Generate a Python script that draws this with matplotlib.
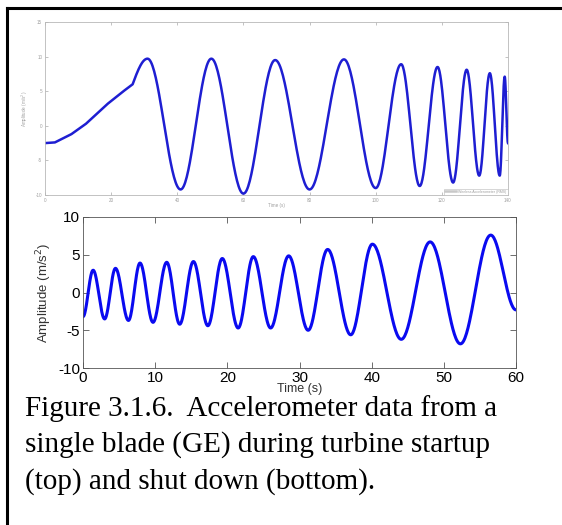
import numpy as np
import matplotlib
from matplotlib import pyplot as plt
from matplotlib.lines import Line2D

matplotlib.use("agg")

# startup record (top): slow ramp, then growing-frequency swings
startup_ramp_t = [0, 3.0, 8.0, 12.4, 19.0, 24.0, 26.5]
startup_ramp_v = [-2.5, -2.4, -1.2, 0.3, 3.2, 5.1, 6.0]
startup_ext_t = [31.0, 41.0, 50.3, 60.0, 69.6, 80.0, 90.4, 100.0, 107.7,
                 113.3, 118.7, 123.4, 127.5, 131.3, 134.5, 137.5, 139.0, 140.0]
startup_ext_v = [9.7, -9.2, 9.7, -9.8, 9.5, -9.2, 9.6, -9.0, 8.9,
                 -8.7, 8.5, -8.2, 8.1, -7.2, 7.6, -7.2, 7.1, -2.5]

# shut down record (bottom): swings slow down and grow
shutdown_ext_t = [0.0, 1.4, 3.0, 4.5, 6.3, 7.9, 9.7, 11.6, 13.4, 15.3, 17.3,
                  19.3, 21.5, 23.6, 26.0, 28.5, 31.2, 33.9, 37.1, 40.1, 44.1,
                  48.1, 52.3, 56.5, 60.0]
shutdown_ext_v = [-3.2, 2.95, -3.5, 3.2, -3.7, 3.9, -3.95, 4.0, -4.2, 4.1, -4.4,
                  4.5, -4.7, 4.75, -4.7, 4.85, -5.0, 5.7, -5.6, 6.4, -6.2,
                  6.7, -6.8, 7.6, -2.3]

caption = ["Figure 3.1.6.  Accelerometer data from a",
           "single blade (GE) during turbine startup",
           "(top) and shut down (bottom)."]


def swing(ts, vs, n=40, lead_in=False):
    # half-cosine strokes between successive turning points;
    # lead_in makes the first stroke a quarter sine (still climbing at its start)
    xs, ys = [], []
    for i in range(len(ts) - 1):
        s = np.linspace(0, 1, n, endpoint=False)
        if i == 0 and lead_in:
            shape = np.sin(np.pi / 2 * s)
        else:
            shape = (1 - np.cos(np.pi * s)) / 2
        xs.append(ts[i] + s * (ts[i + 1] - ts[i]))
        ys.append(vs[i] + (vs[i + 1] - vs[i]) * shape)
    xs.append([ts[-1]])
    ys.append([vs[-1]])
    return np.concatenate(xs), np.concatenate(ys)


def matlab_box(ax, color, length, size):
    for sp in ax.spines.values():
        sp.set_color(color)
        sp.set_linewidth(0.6)
    ax.tick_params(direction="in", top=True, right=True, length=length,
                   width=0.6, color=color, labelsize=size, pad=2)


plt.rcParams["font.family"] = ["Liberation Sans", "DejaVu Sans"]
plt.rcParams["axes.unicode_minus"] = False
fig = plt.figure(figsize=(5.62, 5.25), dpi=100)

# frame around the figure panel
fig.add_artist(Line2D([7 / 562, 7 / 562], [0, 1 - 8 / 525], color="black", lw=2.2))
fig.add_artist(Line2D([7 / 562, 1], [1 - 8 / 525, 1 - 8 / 525], color="black", lw=2.2))

# top: startup
ax1 = fig.add_axes([45 / 562, 1 - 195 / 525, 463 / 562, 173 / 525])
t_up, v_up = swing([startup_ramp_t[-1]] + startup_ext_t,
                   [startup_ramp_v[-1]] + startup_ext_v, lead_in=True)
t_up = np.concatenate([startup_ramp_t[:-1], t_up])
v_up = np.concatenate([startup_ramp_v[:-1], v_up])
ax1.plot(t_up, v_up, color="#1e1ed2", lw=1.8, label="Wireless Accelerometer (RMS)")
ax1.set_xlim(0, 140)
ax1.set_ylim(-10, 15)
ax1.set_xticks(range(0, 141, 20))
ax1.set_yticks(range(-10, 16, 5))
matlab_box(ax1, "#b8b8b8", 2, 3.3)
ax1.tick_params(labelcolor="#a0a0a0")
ax1.set_xlabel("Time (s)", fontsize=3.3, color="#a0a0a0", labelpad=0)
ax1.set_ylabel("Amplitude (m/s$^2$)", fontsize=3.3, color="#a0a0a0", labelpad=4)
leg = ax1.legend(loc="lower right", fontsize=2.5, frameon=True, fancybox=False,
                 borderpad=0.3, handlelength=3, borderaxespad=0.1)
leg.get_frame().set_edgecolor("#b8b8b8")
leg.get_frame().set_linewidth(0.5)
for txt in leg.get_texts():
    txt.set_color("#a0a0a0")
leg.get_lines()[0].set_color("#c8c8c8")

# bottom: shut down
ax2 = fig.add_axes([83 / 562, 1 - 368 / 525, 433 / 562, 151 / 525])
t_dn, v_dn = swing(shutdown_ext_t, shutdown_ext_v)
ax2.plot(t_dn, v_dn, color="#0a0af0", lw=2.2)
ax2.set_xlim(0, 60)
ax2.set_ylim(-10, 10)
ax2.set_xticks(range(0, 61, 10))
ax2.set_yticks([-10, -5, 0, 5, 10])
matlab_box(ax2, "#555555", 4, 11)
ax2.tick_params(labelcolor="black")
ax2.set_xlabel("Time (s)", fontsize=9, color="#333333", labelpad=-1)
ax2.set_ylabel("Amplitude (m/s$^2$)", fontsize=9.5, color="#333333", labelpad=3)

# caption
for i, line in enumerate(caption):
    fig.text(25 / 562, 1 - [416, 452, 489][i] / 525, line, fontsize=21,
             family="Liberation Serif", va="baseline", ha="left")

fig.savefig("out.png", dpi=100)
